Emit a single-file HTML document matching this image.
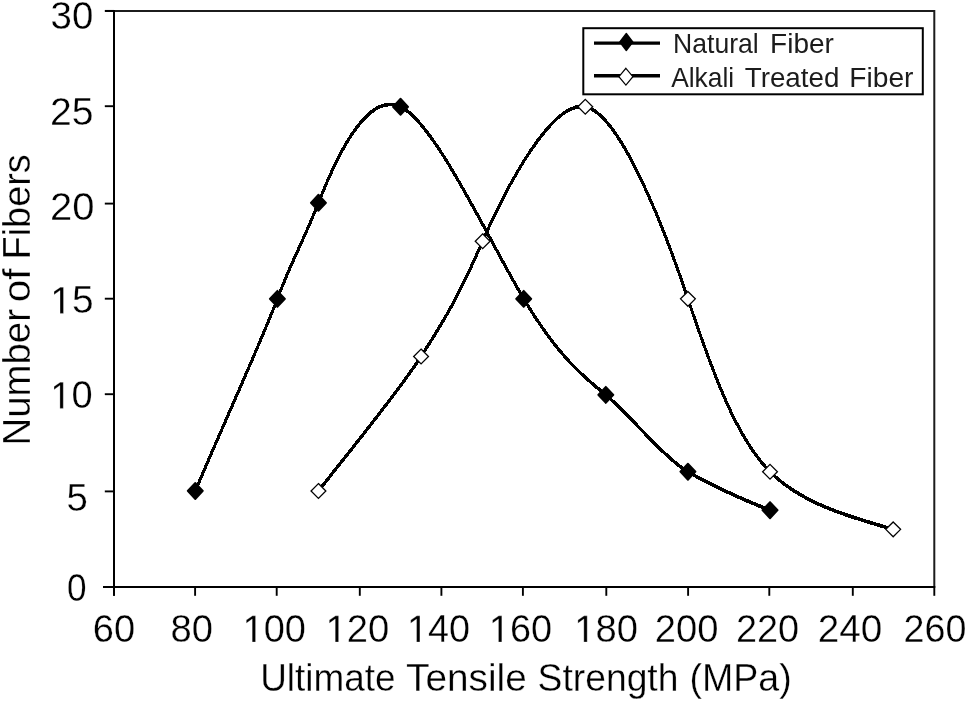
<!DOCTYPE html>
<html><head><meta charset="utf-8"><style>
html,body{margin:0;padding:0;background:#fff;width:968px;height:702px;overflow:hidden;}
svg{display:block;font-family:"Liberation Sans", sans-serif;filter:grayscale(1);}
</style></head><body>
<svg width="968" height="702" viewBox="0 0 968 702">
<path d="M105,10.9 H934.3 V587" fill="none" stroke="#1c1c1c" stroke-width="2"/>
<path d="M114,10 V595.8" fill="none" stroke="#000" stroke-width="2"/>
<path d="M103,587 H935.3" fill="none" stroke="#000" stroke-width="2"/>
<path d="M104.8,587.0 H114" stroke="#000" stroke-width="1.9"/>
<path d="M104.8,491.4 H114" stroke="#000" stroke-width="1.9"/>
<path d="M104.8,394.2 H114" stroke="#000" stroke-width="1.9"/>
<path d="M104.8,298.7 H114" stroke="#000" stroke-width="1.9"/>
<path d="M104.8,203.6 H114" stroke="#000" stroke-width="1.9"/>
<path d="M104.8,106.2 H114" stroke="#000" stroke-width="1.9"/>
<path d="M104.8,10.9 H114" stroke="#000" stroke-width="1.9"/>
<path d="M114.0,587 V595.8" stroke="#000" stroke-width="1.9"/>
<path d="M195.1,587 V595.8" stroke="#000" stroke-width="1.9"/>
<path d="M276.7,587 V595.8" stroke="#000" stroke-width="1.9"/>
<path d="M359.8,587 V595.8" stroke="#000" stroke-width="1.9"/>
<path d="M441.4,587 V595.8" stroke="#000" stroke-width="1.9"/>
<path d="M522.9,587 V595.8" stroke="#000" stroke-width="1.9"/>
<path d="M606.3,587 V595.8" stroke="#000" stroke-width="1.9"/>
<path d="M688.1,587 V595.8" stroke="#000" stroke-width="1.9"/>
<path d="M769.3,587 V595.8" stroke="#000" stroke-width="1.9"/>
<path d="M852.8,587 V595.8" stroke="#000" stroke-width="1.9"/>
<path d="M934.3,587 V595.8" stroke="#000" stroke-width="1.9"/>
<g font-family='"Liberation Sans", sans-serif' fill="#000" stroke="#fff" stroke-width="0.3"><text x="92.77" y="642.00" font-size="38" textLength="42.32" lengthAdjust="spacingAndGlyphs" fill="#000">60</text>
<text x="170.54" y="642.00" font-size="38" textLength="42.45" lengthAdjust="spacingAndGlyphs" fill="#000">80</text>
<path transform="translate(242.65,642.00) scale(0.01854,-0.01855)" d="M515,0 L515,1237 L197,1010 L197,1180 L530,1409 L696,1409 L696,0 Z" fill="#000" vector-effect="non-scaling-stroke"/><text x="263.76" y="642.00" font-size="38" textLength="42.22" lengthAdjust="spacingAndGlyphs" fill="#000">00</text>
<path transform="translate(325.62,642.00) scale(0.01866,-0.01855)" d="M515,0 L515,1237 L197,1010 L197,1180 L530,1409 L696,1409 L696,0 Z" fill="#000" vector-effect="non-scaling-stroke"/><text x="346.88" y="642.00" font-size="38" textLength="42.51" lengthAdjust="spacingAndGlyphs" fill="#000">20</text>
<path transform="translate(407.07,642.00) scale(0.01844,-0.01855)" d="M515,0 L515,1237 L197,1010 L197,1180 L530,1409 L696,1409 L696,0 Z" fill="#000" vector-effect="non-scaling-stroke"/><text x="428.07" y="642.00" font-size="38" textLength="42.01" lengthAdjust="spacingAndGlyphs" fill="#000">40</text>
<path transform="translate(488.95,642.00) scale(0.01850,-0.01855)" d="M515,0 L515,1237 L197,1010 L197,1180 L530,1409 L696,1409 L696,0 Z" fill="#000" vector-effect="non-scaling-stroke"/><text x="510.03" y="642.00" font-size="38" textLength="42.15" lengthAdjust="spacingAndGlyphs" fill="#000">60</text>
<path transform="translate(574.23,642.00) scale(0.01863,-0.01855)" d="M515,0 L515,1237 L197,1010 L197,1180 L530,1409 L696,1409 L696,0 Z" fill="#000" vector-effect="non-scaling-stroke"/><text x="595.45" y="642.00" font-size="38" textLength="42.44" lengthAdjust="spacingAndGlyphs" fill="#000">80</text>
<text x="654.78" y="642.00" font-size="38" textLength="63.71" lengthAdjust="spacingAndGlyphs" fill="#000">200</text>
<text x="736.00" y="642.00" font-size="38" textLength="63.18" lengthAdjust="spacingAndGlyphs" fill="#000">220</text>
<text x="817.65" y="642.00" font-size="38" textLength="64.56" lengthAdjust="spacingAndGlyphs" fill="#000">240</text>
<text x="903.60" y="642.00" font-size="38" textLength="62.87" lengthAdjust="spacingAndGlyphs" fill="#000">260</text>
<text x="50.64" y="29.20" font-size="38" textLength="42.77" lengthAdjust="spacingAndGlyphs" fill="#000">30</text>
<text x="50.03" y="124.60" font-size="38" textLength="43.62" lengthAdjust="spacingAndGlyphs" fill="#000">25</text>
<text x="49.99" y="219.50" font-size="38" textLength="44.47" lengthAdjust="spacingAndGlyphs" fill="#000">20</text>
<path transform="translate(50.26,313.40) scale(0.01900,-0.01855)" d="M515,0 L515,1237 L197,1010 L197,1180 L530,1409 L696,1409 L696,0 Z" fill="#000" vector-effect="non-scaling-stroke"/><text x="71.90" y="313.40" font-size="38" textLength="21.64" lengthAdjust="spacingAndGlyphs" fill="#000">5</text>
<path transform="translate(50.34,408.40) scale(0.01859,-0.01855)" d="M515,0 L515,1237 L197,1010 L197,1180 L530,1409 L696,1409 L696,0 Z" fill="#000" vector-effect="non-scaling-stroke"/><text x="71.51" y="408.40" font-size="38" textLength="21.17" lengthAdjust="spacingAndGlyphs" fill="#000">0</text>
<text x="66.46" y="511.40" font-size="38" textLength="21.35" lengthAdjust="spacingAndGlyphs" fill="#000">5</text>
<text x="66.93" y="601.00" font-size="38" textLength="19.55" lengthAdjust="spacingAndGlyphs" fill="#000">0</text>
<text x="260.15" y="690.80" font-size="38" textLength="135.39" lengthAdjust="spacingAndGlyphs" fill="#000">Ultimate</text>
<text x="406.13" y="690.80" font-size="38" textLength="120.59" lengthAdjust="spacingAndGlyphs" fill="#000">Tensile</text>
<text x="537.61" y="690.80" font-size="38" textLength="140.81" lengthAdjust="spacingAndGlyphs" fill="#000">Strength</text>
<text x="689.47" y="690.80" font-size="38" textLength="102.26" lengthAdjust="spacingAndGlyphs" fill="#000">(MPa)</text>
<text transform="translate(29.50,442.30) rotate(-90)" x="-3.15" y="0" font-size="38" textLength="136.38" lengthAdjust="spacingAndGlyphs">Number</text>
<text transform="translate(29.50,300.50) rotate(-90)" x="-1.70" y="0" font-size="38" textLength="33.74" lengthAdjust="spacingAndGlyphs">of</text>
<text transform="translate(29.50,256.30) rotate(-90)" x="-3.11" y="0" font-size="38" textLength="105.17" lengthAdjust="spacingAndGlyphs">Fibers</text></g>
<g transform="scale(1,1.22)"><path d="M318.44,402.418 C355.89,363.338 398.06,321.416 421.07,292.200 C444.08,262.985 458.65,242.881 482.65,197.728 C506.66,152.575 551.97,82.190 585.28,87.511 C618.60,92.832 661.21,179.524 687.92,244.964 C714.62,310.404 737.69,360.198 770.02,386.672 C802.35,413.147 849.69,423.559 893.18,433.908" fill="none" stroke="#000" stroke-width="3.0" shape-rendering="crispEdges"/></g>
<path d="M318.44,483.55 L325.84,490.95 L318.44,498.35 L311.04,490.95 Z" fill="#fff" stroke="#000" stroke-width="1.3"/>
<path d="M421.07,349.08 L428.47,356.48 L421.07,363.88 L413.67,356.48 Z" fill="#fff" stroke="#000" stroke-width="1.3"/>
<path d="M482.65,233.83 L490.05,241.23 L482.65,248.63 L475.25,241.23 Z" fill="#fff" stroke="#000" stroke-width="1.3"/>
<path d="M585.28,99.36 L592.68,106.76 L585.28,114.16 L577.88,106.76 Z" fill="#fff" stroke="#000" stroke-width="1.3"/>
<path d="M687.92,291.46 L695.32,298.86 L687.92,306.26 L680.52,298.86 Z" fill="#fff" stroke="#000" stroke-width="1.3"/>
<path d="M770.02,464.34 L777.42,471.74 L770.02,479.14 L762.62,471.74 Z" fill="#fff" stroke="#000" stroke-width="1.3"/>
<path d="M893.18,521.97 L900.58,529.37 L893.18,536.77 L885.78,529.37 Z" fill="#fff" stroke="#000" stroke-width="1.3"/>
<g transform="scale(1,1.22)"><path d="M195.28,402.418 C226.45,342.162 261.95,278.633 277.39,244.964 C292.82,211.296 301.95,200.518 318.44,166.238 C334.93,131.957 365.92,74.299 400.54,87.511 C435.17,100.723 488.65,196.838 523.70,244.964 C558.76,293.091 583.62,308.753 605.81,323.691 C628.00,338.629 663.79,375.051 687.92,386.672 C712.04,398.294 749.84,411.946 770.02,418.163" fill="none" stroke="#000" stroke-width="3.0" shape-rendering="crispEdges"/></g>
<path d="M195.28,482.85 L202.88,490.95 L195.28,499.05 L187.68,490.95 Z" fill="#000" stroke="#000" stroke-width="1.80" stroke-linejoin="round"/>
<path d="M277.39,290.76 L284.99,298.86 L277.39,306.96 L269.79,298.86 Z" fill="#000" stroke="#000" stroke-width="1.80" stroke-linejoin="round"/>
<path d="M318.44,194.71 L326.04,202.81 L318.44,210.91 L310.84,202.81 Z" fill="#000" stroke="#000" stroke-width="1.80" stroke-linejoin="round"/>
<path d="M400.54,98.66 L408.14,106.76 L400.54,114.86 L392.94,106.76 Z" fill="#000" stroke="#000" stroke-width="1.80" stroke-linejoin="round"/>
<path d="M523.70,290.76 L531.30,298.86 L523.70,306.96 L516.10,298.86 Z" fill="#000" stroke="#000" stroke-width="1.80" stroke-linejoin="round"/>
<path d="M605.81,386.80 L613.41,394.90 L605.81,403.00 L598.21,394.90 Z" fill="#000" stroke="#000" stroke-width="1.80" stroke-linejoin="round"/>
<path d="M687.92,463.64 L695.52,471.74 L687.92,479.84 L680.32,471.74 Z" fill="#000" stroke="#000" stroke-width="1.80" stroke-linejoin="round"/>
<path d="M770.02,502.06 L777.62,510.16 L770.02,518.26 L762.42,510.16 Z" fill="#000" stroke="#000" stroke-width="1.80" stroke-linejoin="round"/>
<rect x="583.3" y="28.2" width="339.5" height="66.1" fill="#fff" stroke="#000" stroke-width="2"/>
<path d="M594,43.1 H660" stroke="#000" stroke-width="3.4"/>
<path d="M594,75.8 H660" stroke="#000" stroke-width="3.4"/>
<path d="M626.30,33.70 L632.60,42.00 L626.30,50.30 L620.00,42.00 Z" fill="#000" stroke="#000" stroke-width="1.80" stroke-linejoin="round"/>
<path d="M625.90,68.30 L632.90,76.70 L625.90,85.10 L618.90,76.70 Z" fill="#fff" stroke="#000" stroke-width="1.2"/>
<g font-family='"Liberation Sans", sans-serif' stroke="#fff" stroke-width="0"><text x="673.02" y="52.90" font-size="27.3" textLength="85.76" lengthAdjust="spacingAndGlyphs" fill="#1c1c1c">Natural</text>
<text x="770.10" y="52.90" font-size="27.3" textLength="63.76" lengthAdjust="spacingAndGlyphs" fill="#1c1c1c">Fiber</text>
<text x="671.15" y="87.30" font-size="27.3" textLength="63.03" lengthAdjust="spacingAndGlyphs" fill="#1c1c1c">Alkali</text>
<text x="744.78" y="87.30" font-size="27.3" textLength="94.61" lengthAdjust="spacingAndGlyphs" fill="#1c1c1c">Treated</text>
<text x="849.29" y="87.30" font-size="27.3" textLength="64.18" lengthAdjust="spacingAndGlyphs" fill="#1c1c1c">Fiber</text></g>
</svg>
</body></html>
